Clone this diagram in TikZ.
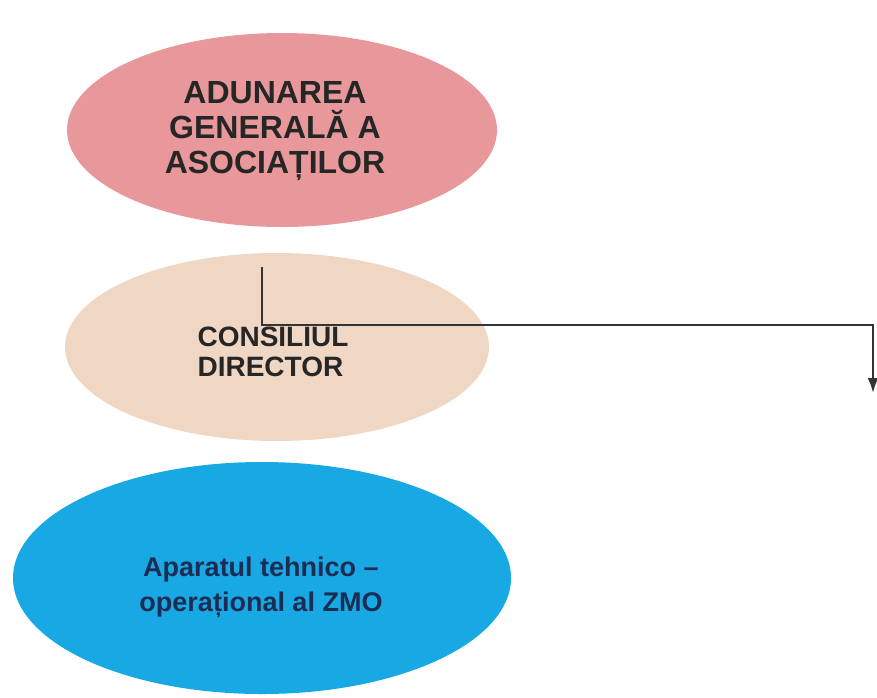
\documentclass[tikz,border=0pt]{standalone}
\usepackage{fontspec}
\setmainfont{Liberation Sans}
\usetikzlibrary{arrows.meta,positioning,shapes.geometric}
\definecolor{adunarepink}{RGB}{232,152,154}
\definecolor{consiliubeige}{RGB}{240,215,196}
\definecolor{aparatblue}{RGB}{24,168,228}
\definecolor{aparattext}{RGB}{28,44,82}

\begin{document}
\begin{tikzpicture}[x=1pt, y=-1pt,
  organ/.style={ellipse, draw=none, inner sep=0pt},
  caption/.style={inner sep=0pt, font=\bfseries},
  link/.style={draw=black!80, line width=2.4pt, -{Latex[length=15pt,width=11pt]}}]
\useasboundingbox (0,0) rectangle (877,697);

% Ellipses
\node[organ, fill=adunarepink, minimum width=430pt, minimum height=194pt]
  (adunare) at (282,130) {};
\node[organ, fill=consiliubeige, minimum width=424pt, minimum height=188pt]
  (consiliu) at (277,347) {};
\node[organ, fill=aparatblue, minimum width=498pt, minimum height=232pt]
  (aparat) at (262,578) {};

% Texts
\node[caption, align=center, text=black!85, font=\bfseries\fontsize{32}{35}\selectfont]
  (adunare-text) at (275,131) {ADUNAREA\\GENERALĂ A\\ASOCIAȚILOR};
\node[caption, align=left, text=black!85, font=\bfseries\fontsize{28}{30}\selectfont]
  (consiliu-text) at (273,352) {CONSILIUL\\DIRECTOR};
\node[caption, align=center, text=aparattext, font=\bfseries\fontsize{27}{35}\selectfont]
  (aparat-text) at (261,587) {Aparatul tehnico --\\operațional al ZMO};

% Connector
\coordinate (start) at (262,267);
\coordinate (bend) at (262,325);
\coordinate (end) at (873,393);
\draw[link] (start) -- (bend) -| (end);
\end{tikzpicture}
\end{document}
